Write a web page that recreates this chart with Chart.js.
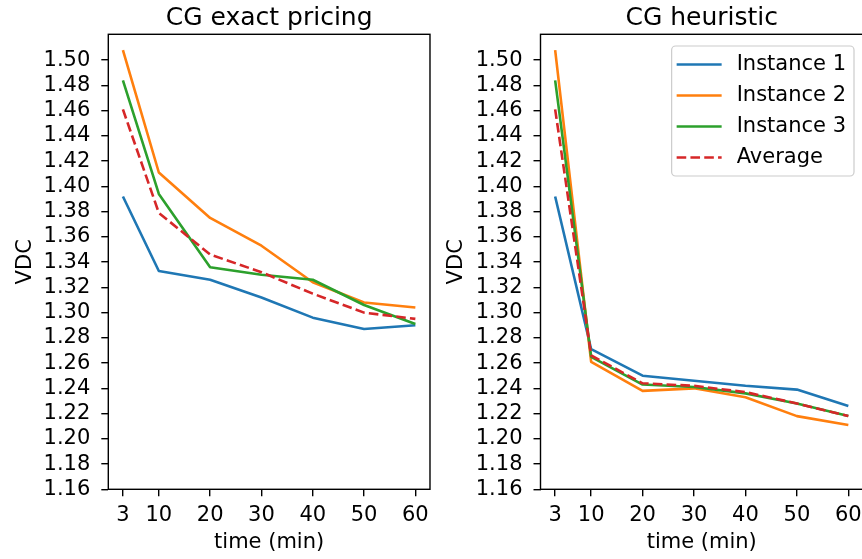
<!DOCTYPE html>
<html>
<head>
<meta charset="utf-8">
<script src="https://cdn.jsdelivr.net/npm/chart.js@4/dist/chart.umd.min.js"></script>
<style>
  html, body { margin: 0; padding: 0; background: #fff; overflow: hidden; width: 862px; height: 559px; }
  canvas { position: absolute; top: 0; }
  #exact { left: 0; }
  #heur { left: 431px; }
</style>
</head>
<body>
<canvas id="exact" width="436" height="559"></canvas>
<canvas id="heur" width="440" height="559"></canvas>
<script>
// x values (minutes) and y tick labels
var times = [3, 10, 20, 30, 40, 50, 60];
var yTicks = [1.16, 1.18, 1.20, 1.22, 1.24, 1.26, 1.28, 1.30, 1.32, 1.34, 1.36, 1.38, 1.40, 1.42, 1.44, 1.46, 1.48, 1.50];
var seriesNames = ["Instance 1", "Instance 2", "Instance 3", "Average"];

// CG exact pricing
var exact1 = [1.392, 1.333, 1.326, 1.312, 1.296, 1.287, 1.290];
var exact2 = [1.508, 1.411, 1.375, 1.353, 1.324, 1.308, 1.304];
var exact3 = [1.484, 1.394, 1.336, 1.330, 1.326, 1.306, 1.291];
var exactAvg = [1.461, 1.379, 1.346, 1.332, 1.315, 1.300, 1.295];

// CG heuristic
var heur1 = [1.392, 1.271, 1.250, 1.246, 1.242, 1.239, 1.226];
var heur2 = [1.508, 1.261, 1.238, 1.240, 1.233, 1.218, 1.211];
var heur3 = [1.484, 1.265, 1.243, 1.241, 1.236, 1.228, 1.218];
var heurAvg = [1.461, 1.266, 1.244, 1.242, 1.237, 1.228, 1.218];

var colors = ["#1f77b4", "#ff7f0e", "#2ca02c", "#d62728"];
var FONT = "DejaVu Sans";

Chart.defaults.font.family = FONT;
Chart.defaults.color = "#000";

function pts(ys) {
  return times.map(function (t, i) { return { x: t, y: ys[i] }; });
}

function buildDatasets(lists) {
  return lists.map(function (ys, i) {
    return {
      label: seriesNames[i],
      data: pts(ys),
      borderColor: colors[i],
      backgroundColor: colors[i],
      borderWidth: 2.6,
      borderDash: i === 3 ? [9.6, 4.2] : [],
      borderJoinStyle: "round",
      pointRadius: 0,
      tension: 0,
      fill: false,
      order: 3 - i // average drawn on top
    };
  });
}

// box around the plot (all four spines) and a title centred over the plot
var frame = {
  id: "frame",
  afterDatasetsDraw: function (chart) {
    var a = chart.chartArea, ctx = chart.ctx;
    ctx.save();
    ctx.strokeStyle = "#000";
    ctx.lineWidth = 1.4;
    ctx.strokeRect(a.left, a.top, a.right - a.left, a.bottom - a.top);
    var t = chart.options.plugins.frame && chart.options.plugins.frame.title;
    if (t) {
      ctx.font = "25px '" + FONT + "'";
      ctx.fillStyle = "#000";
      ctx.textAlign = "center";
      ctx.textBaseline = "middle";
      ctx.fillText(t, (a.left + a.right) / 2, 18.5);
    }
    ctx.restore();
  }
};

// matplotlib style legend in the upper right corner
var innerLegend = {
  id: "innerLegend",
  afterDraw: function (chart) {
    if (!chart.options.plugins.innerLegend || !chart.options.plugins.innerLegend.show) return;
    var a = chart.chartArea, ctx = chart.ctx;
    var sets = chart.data.datasets;
    ctx.save();
    ctx.font = "21px '" + FONT + "'";
    var tw = 0;
    sets.forEach(function (d) { tw = Math.max(tw, ctx.measureText(d.label).width); });
    var w = 65 + tw + 8, h = 130;
    var right = a.right - 9, top = a.top + 11.7, left = right - w;
    ctx.beginPath();
    ctx.roundRect(left, top, w, h, 4);
    ctx.fillStyle = "rgba(255,255,255,0.8)";
    ctx.fill();
    ctx.lineWidth = 1.2;
    ctx.strokeStyle = "#cccccc";
    ctx.stroke();
    sets.forEach(function (d, i) {
      var y = top + 18.5 + i * 31;
      ctx.beginPath();
      ctx.setLineDash(d.borderDash || []);
      ctx.strokeStyle = d.borderColor;
      ctx.lineWidth = d.borderWidth;
      ctx.moveTo(left + 5, y);
      ctx.lineTo(left + 50, y);
      ctx.stroke();
      ctx.setLineDash([]);
      ctx.fillStyle = "#000";
      ctx.textBaseline = "middle";
      ctx.textAlign = "left";
      ctx.fillText(d.label, left + 65, y);
    });
    ctx.restore();
  }
};

function makeChart(id, title, lists, yAxisWidth, padRight, showLegend) {
  var ctx = document.getElementById(id).getContext("2d");
  return new Chart(ctx, {
    type: "line",
    data: { datasets: buildDatasets(lists) },
    options: {
      responsive: false,
      animation: false,
      devicePixelRatio: 1,
      layout: { padding: { left: 0, right: padRight, top: 34.3, bottom: 0 } },
      plugins: {
        legend: { display: false },
        tooltip: { enabled: false },
        title: { display: false },
        frame: { title: title },
        innerLegend: { show: showLegend }
      },
      scales: {
        x: {
          type: "linear",
          min: 0.15,
          max: 62.85,
          afterBuildTicks: function (axis) {
            axis.ticks = times.map(function (v) { return { value: v }; });
          },
          afterFit: function (scale) { scale.height = 69.7; },
          ticks: {
            font: { size: 21 },
            color: "#000",
            padding: 7,
            maxRotation: 0,
            autoSkip: false,
            callback: function (v) { return String(v); }
          },
          grid: { drawOnChartArea: false, drawTicks: true, tickLength: 7, color: "#000", lineWidth: 1.4, tickWidth: 1.4 },
          border: { display: false },
          title: { display: true, text: "time (min)", font: { size: 21 }, color: "#000", padding: { top: 0, bottom: 3.6 } }
        },
        y: {
          type: "linear",
          min: 1.16,
          max: 1.5205,
          afterBuildTicks: function (axis) {
            axis.ticks = yTicks.map(function (v) { return { value: v }; });
          },
          afterFit: function (scale) { scale.width = yAxisWidth; },
          ticks: {
            font: { size: 21 },
            color: "#000",
            padding: 11,
            autoSkip: false,
            callback: function (v) { return Number(v).toFixed(2); }
          },
          grid: { drawOnChartArea: false, drawTicks: true, tickLength: 7, color: "#000", lineWidth: 1.4, tickWidth: 1.4 },
          border: { display: false },
          title: { display: true, text: "VDC", font: { size: 21 }, color: "#000", padding: { top: 13, bottom: 0 } }
        }
      }
    },
    plugins: [frame, innerLegend]
  });
}

makeChart("exact", "CG exact pricing", [exact1, exact2, exact3, exactAvg], 108.3, 6, false);
makeChart("heur", "CG heuristic", [heur1, heur2, heur3, heurAvg], 109.5, 8, true);
</script>
</body>
</html>
